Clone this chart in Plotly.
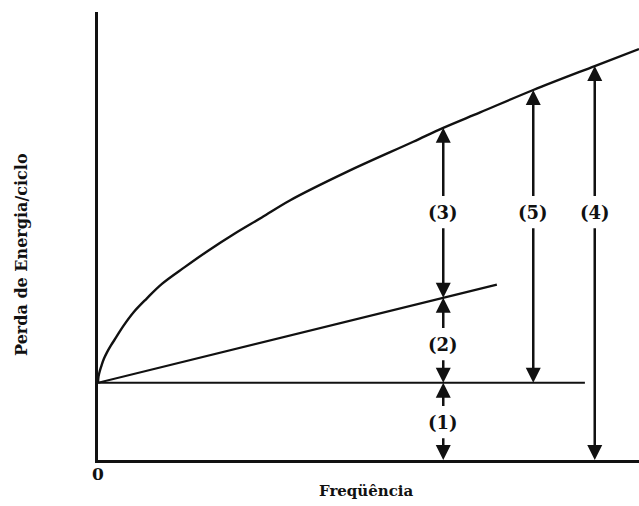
import numpy as np
import plotly.graph_objects as go

# Total energy loss per cycle vs. frequency
freq_total = [0, 0.01, 0.04, 0.07, 0.12, 0.18, 0.26, 0.37, 0.51, 0.72, 0.99, 1.30, 1.77,
              2.24, 2.75, 3.33, 3.90, 5.06, 6.41, 7.02, 7.77, 8.85, 10.1, 11.0]
loss_total = [1.0, 1.08, 1.16, 1.22, 1.31, 1.39, 1.48, 1.59, 1.73, 1.91, 2.09, 2.28, 2.50,
              2.71, 2.92, 3.14, 3.36, 3.73, 4.12, 4.30, 4.50, 4.79, 5.10, 5.32]

# Linear (classical) component
freq_lin = [0, 8.11]
loss_lin = [1.0, 2.27]

# Constant (hysteresis) component
freq_const = [0, 9.9]
loss_const = [1.0, 1.0]

# Dimension arrows: frequency where each is drawn, and where its label sits
arrow_freqs = [7.02, 8.85, 10.1]
label_y = {"(1)": 0.49, "(2)": 1.50, "(3)": 3.21, "(4)": 3.21, "(5)": 3.21}

INK = "#111111"
SERIF = "DejaVu Serif"

fig = go.Figure()
fig.add_trace(go.Scatter(x=freq_total, y=loss_total, mode="lines",
                         line=dict(color=INK, width=2.4, shape="spline", smoothing=1.0),
                         hoverinfo="skip"))
fig.add_trace(go.Scatter(x=freq_lin, y=loss_lin, mode="lines",
                         line=dict(color=INK, width=2.2), hoverinfo="skip"))
fig.add_trace(go.Scatter(x=freq_const, y=loss_const, mode="lines",
                         line=dict(color=INK, width=2.2), hoverinfo="skip"))


def total_at(f):
    return float(np.interp(f, freq_total, loss_total))


def lin_at(f):
    return float(np.interp(f, freq_lin, loss_lin))


f_a, f_b, f_c = arrow_freqs
base = loss_const[0]
# (label, x, y_bottom, y_top)
dims = [
    ("(1)", f_a, 0.0, base),
    ("(2)", f_a, base, lin_at(f_a)),
    ("(3)", f_a, lin_at(f_a), total_at(f_a)),
    ("(5)", f_b, base, total_at(f_b)),
    ("(4)", f_c, 0.0, total_at(f_c)),
]

gap = 0.19
annotations = []
arrow_common = dict(xref="x", yref="y", axref="x", ayref="y", text="",
                    showarrow=True, arrowhead=2, arrowsize=1.2, arrowwidth=2.5,
                    arrowcolor=INK, standoff=0)
for lab, xf, y0, y1 in dims:
    yl = label_y[lab]
    annotations.append(dict(x=xf, y=y1, ax=xf, ay=yl + gap, **arrow_common))
    annotations.append(dict(x=xf, y=y0, ax=xf, ay=yl - gap, **arrow_common))
    annotations.append(dict(x=xf, y=yl, xref="x", yref="y", text="<b>%s</b>" % lab,
                            xanchor="center", yanchor="middle",
                            showarrow=False, font=dict(family=SERIF, size=18, color=INK)))

annotations.append(dict(x=-0.1405, y=0.46, xref="paper", yref="paper",
                        xanchor="center", yanchor="middle",
                        text="<b>Perda de Energia/ciclo</b>", textangle=-90,
                        showarrow=False, font=dict(family=SERIF, size=16, color=INK)))
annotations.append(dict(x=0.497, y=-0.0692, xref="paper", yref="paper",
                        xanchor="center", yanchor="middle",
                        text="<b>Freqüência</b>", showarrow=False,
                        font=dict(family=SERIF, size=15, color=INK)))

fig.update_layout(
    width=639, height=506,
    margin=dict(l=98, r=0, t=12, b=46),
    paper_bgcolor="white", plot_bgcolor="white",
    showlegend=False,
    annotations=annotations,
    xaxis=dict(range=[0, 11], showgrid=False, zeroline=False, showline=True,
               linecolor=INK, linewidth=2.5, tickvals=[0], ticktext=["<b>0</b>"],
               ticks="", ticklabelstandoff=-3,
               tickfont=dict(family=SERIF, size=17, color=INK)),
    yaxis=dict(range=[0, 5.8], showgrid=False, zeroline=False, showline=True,
               linecolor=INK, linewidth=2.5, showticklabels=False, ticks=""),
)

fig.write_html("out.html")
